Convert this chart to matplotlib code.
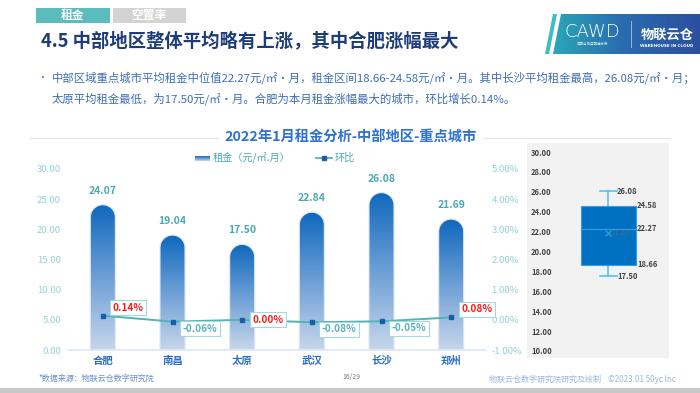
import matplotlib
matplotlib.use("Agg")
import matplotlib.pyplot as plt
import numpy as np
from matplotlib.path import Path
from matplotlib.patches import PathPatch, Rectangle, Polygon
from matplotlib.colors import LinearSegmentedColormap

plt.rcParams['font.family'] = ['Noto Sans CJK SC', 'DejaVu Sans']

# data
cities = ['合肥', '南昌', '太原', '武汉', '长沙', '郑州']
rent = [24.07, 19.04, 17.50, 22.84, 26.08, 21.69]
mom = [0.14, -0.06, 0.00, -0.08, -0.05, 0.08]
left_ticks = [0, 5, 10, 15, 20, 25, 30]
right_ticks = [-1, 0, 1, 2, 3, 4, 5]
box_ticks = [10, 12, 14, 16, 18, 20, 22, 24, 26, 28, 30]
box_min, box_q1, box_med, box_q3, box_max = 17.50, 18.66, 22.27, 24.58, 26.08
box_mean = 21.87

W, H = 700, 393
fig = plt.figure(figsize=(7, 3.93), dpi=100)
fig.patch.set_facecolor('white')

def fx(px):
    return px / W

def fy(py):
    return 1 - py / H

# header tabs
fig.patches.append(Rectangle((fx(36), fy(23)), fx(74), 15 / H, transform=fig.transFigure,
                             facecolor='#5bbcbd', edgecolor='none'))
fig.patches.append(Rectangle((fx(113), fy(23)), fx(73), 15 / H, transform=fig.transFigure,
                             facecolor='#d3d3d3', edgecolor='none'))
fig.text(fx(73), fy(15.5), '租金', color='white', fontsize=8.5, fontweight='bold', ha='center', va='center')
fig.text(fx(149), fy(15.5), '空置率', color='white', fontsize=8.5, fontweight='bold', ha='center', va='center')

fig.text(fx(41), fy(41), '4.5 中部地区整体平均略有上涨，其中合肥涨幅最大', color='#1e3d78',
         fontsize=13.2, fontweight='bold', ha='left', va='center')

# logo
logo = fig.add_axes([fx(543), fy(54), fx(157), 40 / H])
logo.set_xlim(0, 157)
logo.set_ylim(0, 40)
logo.axis('off')
grad = np.linspace(0, 1, 256).reshape(1, -1)
logo_cmap = LinearSegmentedColormap.from_list('logo', ['#2bb0b8', '#2a6cb0', '#2c4f9e'])
im = logo.imshow(grad, extent=[0, 157, 0, 40], cmap=logo_cmap, aspect='auto')
main_poly = Polygon([[10, 0], [157, 0], [157, 40], [18, 40]], closed=True, transform=logo.transData)
im.set_clip_path(main_poly)
logo.add_patch(Polygon([[2, 0], [6, 0], [14, 40], [10, 40]], closed=True, facecolor='#3cbfc4', edgecolor='none'))
logo.text(49, 22, 'CAWD', color='white', fontsize=13, ha='center', va='center', family='DejaVu Sans',
          fontweight='light')
logo.text(49, 10, '中国仓储与配送协会', color='#d8eef5', fontsize=2.5, ha='center', va='center')
logo.plot([88, 88], [7, 33], color='#9fc4e8', lw=0.6)
logo.text(124, 19, '物联云仓', color='white', fontsize=9.5, fontweight='bold', ha='center', va='center')
logo.text(124, 8, 'WAREHOUSE IN CLOUD', color='white', fontsize=3, fontweight='bold', ha='center', va='center',
          family='DejaVu Sans')

# bullet text
fig.text(fx(37), fy(78), '•', color='#4f79b8', fontsize=7, ha='left', va='center')
fig.text(fx(52), fy(78),
         '中部区域重点城市平均租金中位值22.27元/㎡·月，租金区间18.66-24.58元/㎡·月。其中长沙平均租金最高，26.08元/㎡·月；',
         color='#3d6eb4', fontsize=8.2, ha='left', va='center')
fig.text(fx(52), fy(99),
         '太原平均租金最低，为17.50元/㎡·月。合肥为本月租金涨幅最大的城市，环比增长0.14%。',
         color='#3d6eb4', fontsize=8.2, ha='left', va='center')

# chart title and rules
fig.text(fx(351), fy(138), '2022年1月租金分析-中部地区-重点城市', color='#2f72d2', fontsize=10.3,
         fontweight='bold', ha='center', va='center')
fig.lines.append(plt.Line2D([fx(30), fx(218)], [fy(138), fy(138)], transform=fig.transFigure,
                            color='#e3e3e3', lw=0.8))
fig.lines.append(plt.Line2D([fx(484), fx(670)], [fy(138), fy(138)], transform=fig.transFigure,
                            color='#e3e3e3', lw=0.8))

# legend
bar_cmap = LinearSegmentedColormap.from_list('bar', ['#c7d6eb', '#6d9fd6', '#0f68bd'])
leg = fig.add_axes([fx(195), fy(161), fx(14), 5 / H])
leg.imshow(np.linspace(0, 1, 64).reshape(-1, 1), cmap=bar_cmap, origin='lower', aspect='auto',
           extent=[0, 1, 0, 1])
leg.axis('off')
fig.text(fx(213), fy(158), '租金（元/㎡.月）', color='#4aa9b3', fontsize=7.3, ha='left', va='center')
fig.lines.append(plt.Line2D([fx(316), fx(332)], [fy(158), fy(158)], transform=fig.transFigure,
                            color='#4db6b6', lw=1.3))
fig.lines.append(plt.Line2D([fx(324)], [fy(158)], transform=fig.transFigure, marker='s',
                            markersize=3.3, color='#1a5ea8', lw=0))
fig.text(fx(335), fy(158), '环比', color='#4aa9b3', fontsize=7.3, ha='left', va='center')

# main chart
ax = fig.add_axes([fx(68), fy(350), fx(486 - 68), (350 - 169) / H])
ax.set_xlim(-0.5, len(cities) - 0.5)
ax.set_ylim(0, 30)
x = np.arange(len(cities))

px_per_x = (486 - 68) / len(cities)
px_per_y = (350 - 169) / 30
bar_px = 25
rx = bar_px / 2 / px_per_x
ry = bar_px / 2 / px_per_y
t = np.linspace(np.pi, 0, 40)
vgrad = np.linspace(0, 1, 256).reshape(-1, 1)

for xi, v in zip(x, rent):
    pts = [(xi - rx, 0), (xi - rx, v - ry)]
    pts += list(zip(xi + rx * np.cos(t), v - ry + ry * np.sin(t)))
    pts += [(xi + rx, 0), (xi - rx, 0)]
    path = Path(pts)
    patch = PathPatch(path, facecolor='none', edgecolor='#dbe7f5', lw=0.8, zorder=3)
    ax.add_patch(patch)
    img = ax.imshow(vgrad, cmap=bar_cmap, origin='lower', aspect='auto',
                    extent=[xi - rx, xi + rx, 0, v], zorder=2)
    img.set_clip_path(patch)
    ax.annotate(f'{v:.2f}', (xi, v), xytext=(0, 14), textcoords='offset pixels', ha='center', va='center',
                color='#4aa9b3', fontsize=7.5, fontweight='bold')

ax.set_xlim(-0.5, len(cities) - 0.5)
ax.set_ylim(0, 30)
ax.set_yticks(left_ticks)
ax.set_yticklabels([f'{v:.2f}' for v in left_ticks])
ax.set_xticks(x)
ax.set_xticklabels(cities)
for s in ['top', 'right', 'left']:
    ax.spines[s].set_visible(False)
ax.spines['bottom'].set_color('#dde7f3')
ax.spines['bottom'].set_linewidth(1.2)
ax.tick_params(axis='y', length=0, labelsize=6.8, labelcolor='#92d2d6', pad=5)
ax.tick_params(axis='x', length=0, labelsize=7.5, labelcolor='#2d6cc8', pad=4)
for lab in ax.get_xticklabels():
    lab.set_fontweight('bold')

ax2 = ax.twinx()
ax2.set_ylim(-1, 5)
ax2.set_yticks(right_ticks)
ax2.set_yticklabels([f'{v:.2f}%' for v in right_ticks])
ax2.tick_params(axis='y', length=0, labelsize=6.8, labelcolor='#92d2d6', pad=4)
for s in ['top', 'right', 'left', 'bottom']:
    ax2.spines[s].set_visible(False)
ax2.plot(x, mom, color='#4db6b6', lw=1.4, marker='s', markersize=3.5,
         markerfacecolor='#1a5ea8', markeredgecolor='#1a5ea8', zorder=5)
for xi, m in zip(x, mom):
    if m > 0:
        dy, col = 8, '#ff1a1a'
    elif m == 0:
        dy, col = 0, '#ff1a1a'
    else:
        dy, col = -7, '#5ab3b6'
    ax2.annotate(f'{m:.2f}%', (xi, m), xytext=(10, dy), textcoords='offset pixels', ha='left', va='center',
                 color=col, fontsize=7.2, fontweight='bold', zorder=6,
                 bbox=dict(boxstyle='square,pad=0.25', facecolor='white', edgecolor='#a6d8d9', lw=0.8))

# box plot panel
bx = fig.add_axes([fx(527), fy(358), fx(669 - 527), (358 - 143) / H])
bx.set_facecolor('#f2f2f2')
ppu = (351 - 152) / 20
bx.set_ylim(10 - 7 / ppu, 30 + 9 / ppu)
bx.set_xlim(0, 142)
bx.set_xticks([])
bx.set_yticks(box_ticks)
bx.set_yticklabels([f'{v:.2f}' for v in box_ticks])
bx.tick_params(axis='y', length=0, direction='in', pad=-3, labelsize=5.5, labelcolor='#444444')
for lab in bx.get_yticklabels():
    lab.set_horizontalalignment('left')
    lab.set_fontweight('bold')
for s in bx.spines.values():
    s.set_visible(False)

cx = 608 - 527
bx.add_patch(Rectangle((581 - 527, box_q1), 636 - 581, box_q3 - box_q1, facecolor='#0070c0',
                       edgecolor='#3a9ae0', lw=0.8, zorder=3))
bx.plot([581 - 527, 636 - 527], [box_med, box_med], color='#3a9ae0', lw=0.8, zorder=4)
bx.plot([cx, cx], [box_q3, box_max], color='#55c2f0', lw=1.2, zorder=2)
bx.plot([cx, cx], [box_min, box_q1], color='#55c2f0', lw=1.2, zorder=2)
bx.plot([600 - 527, 617 - 527], [box_max, box_max], color='#55c2f0', lw=1.2)
bx.plot([600 - 527, 617 - 527], [box_min, box_min], color='#55c2f0', lw=1.2)
bx.plot([cx], [box_mean], marker='x', color='#3a9ae0', markersize=4, mew=0.9, zorder=5)
lab_kw = dict(fontsize=5.5, fontweight='bold', color='#444444', va='center', ha='left')
bx.text(617 - 527, box_max, f'{box_max:.2f}', **lab_kw)
bx.text(617 - 527, box_min, f'{box_min:.2f}', **lab_kw)
bx.text(637 - 527, box_q3, f'{box_q3:.2f}', **lab_kw)
bx.text(637 - 527, box_med, f'{box_med:.2f}', **lab_kw)
bx.text(637 - 527, box_q1, f'{box_q1:.2f}', **lab_kw)
bx.text(cx + 3, box_mean, f'{box_mean:.2f}', fontsize=5.5, color='#5a6a7a', va='center', ha='left', zorder=6)

# footer
fig.text(fx(38), fy(378), '*数据来源：物联云仓数字研究院', color='#6a8fc8', fontsize=5.8, style='italic',
         ha='left', va='center')
fig.text(fx(351), fy(377), '16/29', color='#7a7a7a', fontsize=5, ha='center', va='center')
fig.text(fx(676), fy(379), '物联云仓数字研究院研究及绘制    ©2023.01 50yc Inc', color='#9bb8e0',
         fontsize=5.8, ha='right', va='center')
fig.patches.append(Rectangle((0, 0), 1, 5 / H, transform=fig.transFigure, facecolor='#c8c8c8',
                             edgecolor='none'))

fig.savefig('out.png', dpi=100)
